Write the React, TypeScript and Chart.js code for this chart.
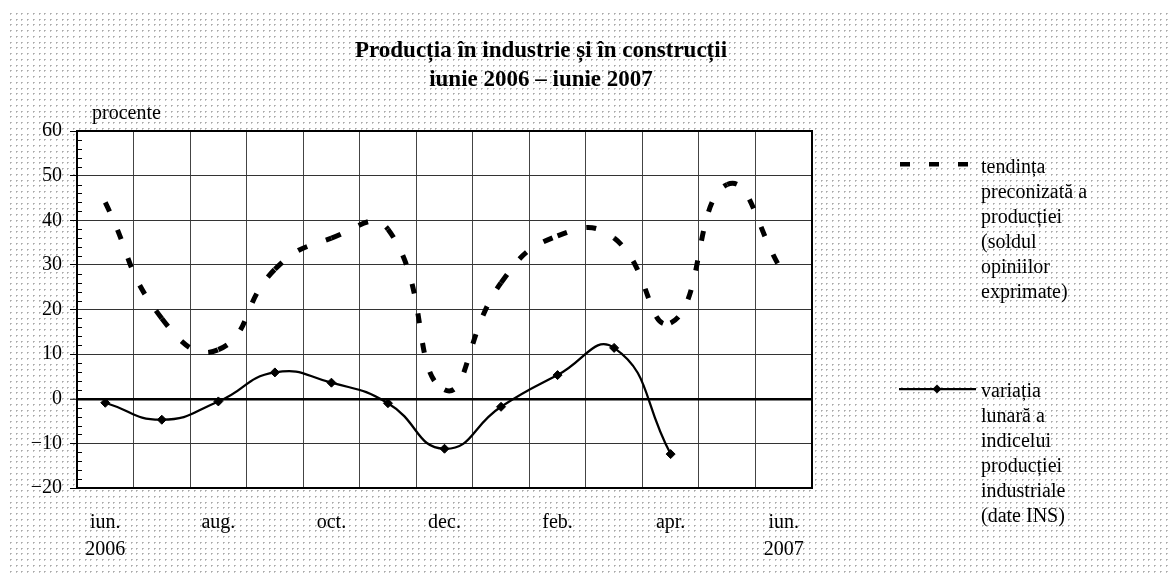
import React, { useEffect, useRef } from 'react';
import { Chart, registerables } from 'chart.js';

Chart.register(...registerables);

// ---- data ----
const months = ['iun. 2006', 'iul.', 'aug.', 'sep.', 'oct.', 'nov.', 'dec.', 'ian.', 'feb.', 'mar.', 'apr.', 'mai', 'iun. 2007'];
const xTickLabels: (string | string[])[] = [['iun.', '2006'], '', 'aug.', '', 'oct.', '', 'dec.', '', 'feb.', '', 'apr.', '', ['iun.', '2007']];
const tendinta = [44, 18, 11, 29, 36, 38, 2, 26, 36.5, 36, 17, 48, 28];
const variatia: (number | null)[] = [-0.9, -4.7, -0.6, 5.9, 3.6, -1.0, -11.2, -1.8, 5.3, 11.4, -12.4, null, null];
const yMin = -20;
const yMax = 60;
const yStep = 10;
const yMinorStep = 2;
const titleLines = ['Producția în industrie și în construcții', 'iunie 2006 – iunie 2007'];
const yUnitLabel = 'procente';
const legendTendinta = ['tendința', 'preconizată a', 'producției', '(soldul', 'opiniilor', 'exprimate)'];
const legendVariatia = ['variația', 'lunară a', 'indicelui', 'producției', 'industriale', '(date INS)'];

const SERIF = '"Liberation Serif", "Times New Roman", serif';

const backgroundPlugin = {
  id: 'bgPattern',
  beforeDraw(chart: any) {
    const { ctx, width, height, chartArea } = chart;
    ctx.save();
    ctx.fillStyle = '#ffffff';
    ctx.fillRect(0, 0, width, height);
    const off = document.createElement('canvas');
    off.width = 23;
    off.height = 23;
    const o = off.getContext('2d')!;
    const pos = [0, 6, 11, 17];
    for (const px of pos) {
      for (const py of pos) {
        o.fillStyle = '#a8a8a8';
        o.fillRect(px, py, 1, 1);
        o.fillStyle = '#c4c4c4';
        o.fillRect(px + 1, py, 1, 1);
        o.fillRect(px, py + 1, 1, 1);
      }
    }
    const pat = ctx.createPattern(off, 'repeat');
    ctx.translate(10, 13);
    ctx.fillStyle = pat;
    ctx.fillRect(0, 0, 1159, 562);
    ctx.restore();
    ctx.save();
    ctx.fillStyle = '#ffffff';
    ctx.fillRect(chartArea.left, chartArea.top, chartArea.right - chartArea.left, chartArea.bottom - chartArea.top);
    ctx.restore();
  },
};

const framePlugin = {
  id: 'frameAndTicks',
  beforeDatasetsDraw(chart: any) {
    const { ctx, chartArea, scales } = chart;
    const y = scales.y;
    ctx.save();
    ctx.strokeStyle = '#000';
    ctx.lineWidth = 2;
    ctx.beginPath();
    ctx.moveTo(chartArea.left, chartArea.top);
    ctx.lineTo(chartArea.right, chartArea.top);
    ctx.lineTo(chartArea.right, chartArea.bottom);
    ctx.stroke();
    ctx.lineWidth = 1;
    for (let v = yMin; v <= yMax; v += yMinorStep) {
      if (v % yStep === 0) continue;
      const py = Math.round(y.getPixelForValue(v)) + 0.5;
      ctx.beginPath();
      ctx.moveTo(chartArea.left, py);
      ctx.lineTo(chartArea.left + 5, py);
      ctx.stroke();
    }
    ctx.restore();
  },
};

const textPlugin = {
  id: 'texts',
  afterDraw(chart: any) {
    const { ctx } = chart;
    ctx.save();
    ctx.fillStyle = '#000';
    ctx.textBaseline = 'middle';
    ctx.textAlign = 'center';
    ctx.font = `bold 23px ${SERIF}`;
    ctx.fillText(titleLines[0], 541, 51);
    ctx.fillText(titleLines[1], 541, 80);
    ctx.textAlign = 'left';
    ctx.font = `20px ${SERIF}`;
    ctx.fillText(yUnitLabel, 92, 114);

    // legend 1: dashed
    for (let i = 0; i < 3; i++) {
      ctx.fillRect(900 + i * 29, 162, 10, 4.5);
    }
    legendTendinta.forEach((t, i) => ctx.fillText(t, 981, 168 + i * 25));

    // legend 2: solid with diamond
    ctx.strokeStyle = '#000';
    ctx.lineWidth = 2.25;
    ctx.beginPath();
    ctx.moveTo(899, 389);
    ctx.lineTo(976, 389);
    ctx.stroke();
    ctx.beginPath();
    ctx.moveTo(937 - 4.5, 389);
    ctx.lineTo(937, 389 - 4.5);
    ctx.lineTo(937 + 4.5, 389);
    ctx.lineTo(937, 389 + 4.5);
    ctx.closePath();
    ctx.fill();
    legendVariatia.forEach((t, i) => ctx.fillText(t, 981, 392 + i * 25));
    ctx.restore();
  },
};

export default function App() {
  const canvasRef = useRef<HTMLCanvasElement | null>(null);

  useEffect(() => {
    document.body.style.margin = '0';
    const canvas = canvasRef.current;
    if (!canvas) return;
    const chart = new Chart(canvas, {
      type: 'line',
      data: {
        labels: months,
        datasets: [
          {
            label: 'tendința preconizată a producției (soldul opiniilor exprimate)',
            data: tendinta,
            borderColor: '#000',
            borderWidth: 5,
            borderDash: [10, 20],
            borderCapStyle: 'butt',
            pointRadius: 0,
            pointHoverRadius: 0,
            tension: 0.5,
            fill: false,
            segment: {
              borderDashOffset: (c: any) => (c.p0DataIndex % 2) * 0.001,
            },
          },
          {
            label: 'variația lunară a indicelui producției industriale (date INS)',
            data: variatia,
            borderColor: '#000',
            backgroundColor: '#000',
            borderWidth: 2.25,
            pointStyle: 'rectRot',
            pointRadius: 4.5,
            pointBackgroundColor: '#000',
            pointBorderColor: '#000',
            pointBorderWidth: 1,
            tension: 0.5,
            fill: false,
            spanGaps: false,
          },
        ],
      },
      options: {
        animation: false,
        responsive: false,
        devicePixelRatio: 1,
        events: [],
        layout: { padding: { top: 131, left: 0, right: 359, bottom: 0 } },
        plugins: {
          legend: { display: false },
          title: { display: false },
          tooltip: { enabled: false },
        },
        scales: {
          x: {
            type: 'category',
            offset: true,
            grid: { offset: true, color: '#444', lineWidth: 1, drawTicks: false },
            border: { color: '#000', width: 2 },
            ticks: {
              autoSkip: false,
              maxRotation: 0,
              minRotation: 0,
              padding: 21,
              color: '#000',
              font: { family: SERIF, size: 20, lineHeight: 1.35 },
              callback: (_v: any, i: number) => xTickLabels[i],
            },
            afterFit: (s: any) => { s.height = 91; },
          },
          y: {
            min: yMin,
            max: yMax,
            grid: {
              color: (c: any) => (c.tick && c.tick.value === 0 ? '#000' : '#333'),
              lineWidth: (c: any) => (c.tick && c.tick.value === 0 ? 2.5 : 1),
              tickColor: '#000',
              tickWidth: 1,
              tickLength: 7,
              drawTicks: true,
            },
            border: { color: '#000', width: 2 },
            ticks: {
              stepSize: yStep,
              padding: 8,
              color: '#000',
              font: { family: SERIF, size: 20 },
              callback: (v: any) => (Number(v) < 0 ? '\u2212' + Math.abs(Number(v)) : String(v)),
            },
            afterFit: (s: any) => { s.width = 77; },
          },
        },
      },
      plugins: [backgroundPlugin, framePlugin, textPlugin],
    });
    return () => chart.destroy();
  }, []);

  return (
    <div style={{ width: 1171, height: 579 }}>
      <canvas ref={canvasRef} width={1171} height={579} style={{ display: 'block' }} />
    </div>
  );
}
